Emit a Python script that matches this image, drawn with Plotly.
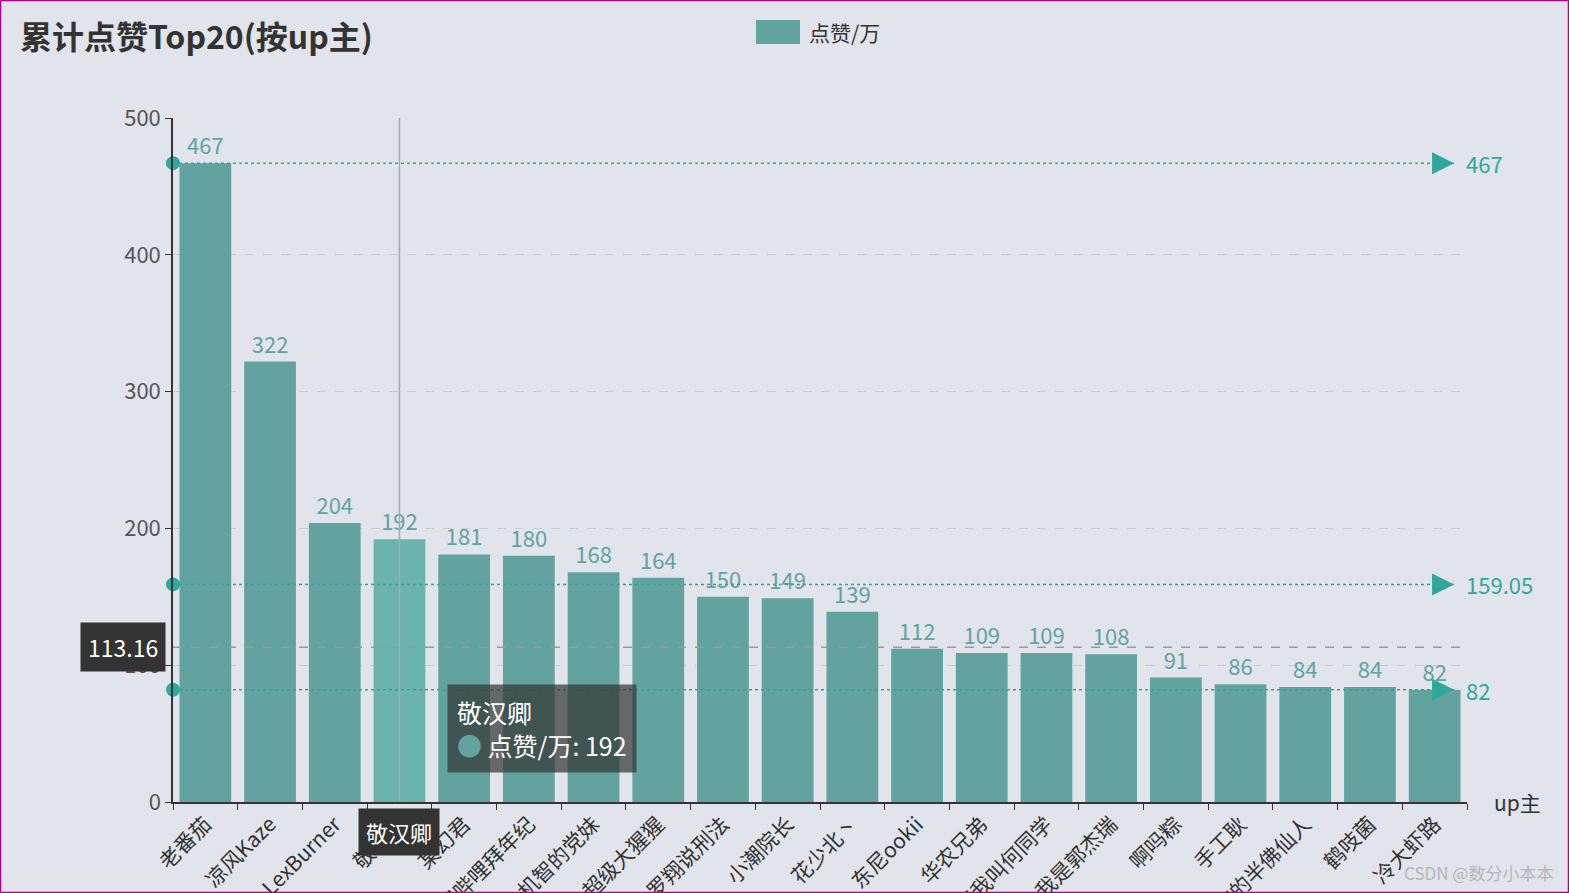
import plotly.graph_objects as go

# data
names = ['老番茄', '凉风Kaze', 'LexBurner', '敬汉卿', '某幻君', '哔哩哔哩拜年纪', '机智的党妹',
         '超级大猩猩', '罗翔说刑法', '小潮院长', '花少北丶', '东尼ookii', '华农兄弟',
         '老师好我叫何同学', '我是郭杰瑞', '啊吗粽', '手工耿', '硬核的半佛仙人', '鹤吱菌', '冷大虾路']
likes = [467, 322, 204, 192, 181, 180, 168, 164, 150, 149, 139, 112, 109, 109, 108, 91, 86, 84, 84, 82]
series_name = '点赞/万'
hover_name = '敬汉卿'
pointer_value = 113.16

W, H = 1569, 893
ML, MR, MT, MB = 173, 102, 118, 91
BG = '#e1e4eb'
BAR = '#62a39f'
MARK = '#2fa89b'
FONT = 'Microsoft YaHei, Noto Sans CJK SC, sans-serif'

avg = round(sum(likes) / len(likes), 2)
mark_vals = [max(likes), avg, min(likes)]
mark_txt = [f'{v:g}' for v in mark_vals]

colors = ['#6bb4ae' if n == hover_name else BAR for n in names]

fig = go.Figure()
fig.add_trace(go.Bar(
    x=names, y=likes, marker_color=colors, marker_line_width=0,
    text=likes, textposition='outside', cliponaxis=False,
    textfont=dict(color=BAR, size=22, family=FONT),
    showlegend=False,
))

# mark line end points
fig.add_trace(go.Scatter(
    x=[0] * 3, y=mark_vals, xaxis='x2', mode='markers', cliponaxis=False,
    marker=dict(symbol='circle', size=14, color=MARK), showlegend=False,
))
fig.add_trace(go.Scatter(
    x=[0.99] * 3, y=mark_vals, xaxis='x2', mode='markers', cliponaxis=False,
    marker=dict(symbol='arrow-right', size=22, color=MARK, line_width=0), showlegend=False,
))

shapes = []
for v in mark_vals:
    shapes.append(dict(type='line', xref='paper', x0=0, x1=0.99, yref='y', y0=v, y1=v,
                       line=dict(color=MARK, width=1.5, dash='dot'), layer='above'))
# crosshair pointer
shapes.append(dict(type='line', xref='x', x0=hover_name, x1=hover_name, yref='paper', y0=0, y1=1,
                   line=dict(color='#aaaaaa', width=1.5), layer='above'))
shapes.append(dict(type='line', xref='paper', x0=0, x1=1, yref='y', y0=pointer_value, y1=pointer_value,
                   line=dict(color='#999999', width=1.5, dash='dash'), layer='above'))
# legend box
pw, ph = W - ML - MR, H - MT - MB
def px_x(p):
    return (p - ML) / pw
def px_y(p):
    return (H - MB - p) / ph
shapes.append(dict(type='rect', xref='paper', yref='paper', x0=px_x(756), x1=px_x(800),
                   y0=px_y(44), y1=px_y(20), fillcolor=BAR, line_width=0))
# frame
shapes.append(dict(type='rect', xref='paper', yref='paper', x0=px_x(0.5), x1=px_x(W - 0.5),
                   y0=px_y(H - 0.5), y1=px_y(0.5), line=dict(color='#b0008a', width=1.5)))

annotations = [
    dict(text='<b>累计点赞Top20(按up主)</b>', xref='paper', yref='paper', x=px_x(18), y=px_y(35),
         xanchor='left', yanchor='middle', showarrow=False, font=dict(size=32, color='#333', family=FONT)),
    dict(text=series_name, xref='paper', yref='paper', x=px_x(807), y=px_y(32),
         xanchor='left', yanchor='middle', showarrow=False, font=dict(size=21, color='#333', family=FONT)),
    dict(text='up主', xref='paper', yref='paper', x=px_x(1492), y=0,
         xanchor='left', yanchor='middle', showarrow=False, font=dict(size=21, color='#333', family=FONT)),
    dict(text='CSDN @数分小本本', xref='paper', yref='paper', x=px_x(1555), y=px_y(872),
         xanchor='right', yanchor='middle', showarrow=False, font=dict(size=17, color='#b4b6ba', family=FONT)),
    # pointer labels
    dict(text=f'{pointer_value:.2f}', xref='paper', x=0, xshift=-7, yref='y', y=pointer_value,
         xanchor='right', yanchor='middle', showarrow=False, bgcolor='#333333', borderpad=7,
         font=dict(size=23, color='white', family=FONT)),
    dict(text=hover_name, xref='x', x=hover_name, yref='paper', y=0, yshift=-6,
         xanchor='center', yanchor='top', showarrow=False, bgcolor='#333333', borderpad=7,
         font=dict(size=22, color='white', family=FONT)),
    # tooltip
    dict(text=f'{hover_name}<br><span style="color:{BAR}">●</span> {series_name}: {likes[names.index(hover_name)]}',
         xref='x', x=hover_name, xshift=48, yref='paper', y=px_y(684),
         xanchor='left', yanchor='top', align='left', showarrow=False,
         bgcolor='rgba(50,50,50,0.7)', borderpad=9,
         font=dict(size=25, color='white', family=FONT)),
]
for v, t in zip(mark_vals, mark_txt):
    annotations.append(dict(text=t, xref='paper', x=1, xshift=-3, yref='y', y=v, xanchor='left', yanchor='middle',
                            showarrow=False, font=dict(size=22, color=MARK, family=FONT)))

fig.update_layout(
    width=W, height=H,
    margin=dict(l=ML, r=MR, t=MT, b=MB),
    paper_bgcolor=BG, plot_bgcolor=BG,
    font=dict(family=FONT, color='#333'),
    bargap=0.2,
    shapes=shapes, annotations=annotations,
    xaxis=dict(
        type='category', range=[-0.5, len(names) - 0.5], tickangle=-45,
        tickfont=dict(size=21, color='#333'), showline=True, linecolor='#333', linewidth=1.5,
        ticks='outside', tickson='boundaries', ticklen=6, tickcolor='#333',
        showgrid=False, automargin=False,
    ),
    xaxis2=dict(overlaying='x', range=[0, 1], visible=False),
    yaxis=dict(
        range=[0, 500], dtick=100, tickfont=dict(size=22, color='#555'),
        showline=True, linecolor='#333', linewidth=1.5, ticks='outside', ticklen=6, tickcolor='#333',
        showgrid=True, gridcolor='#c9ccd2', griddash='dash', gridwidth=1, zeroline=False,
        automargin=False,
    ),
)

fig.write_html('out.html', config={'displayModeBar': False},
               post_script="document.body.style.margin='0';")
